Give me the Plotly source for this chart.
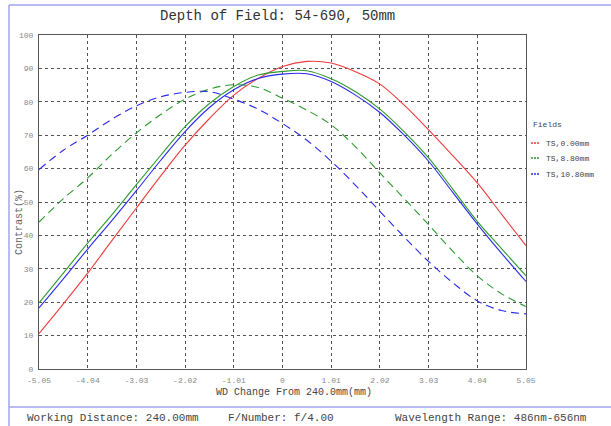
import plotly.graph_objects as go

# ---- data ----
x_vals = [-5.05, -4.545, -4.04, -3.535, -3.03, -2.525, -2.02, -1.515, -1.01, -0.505,
          0.0, 0.505, 1.01, 1.515, 2.02, 2.525, 3.03, 3.535, 4.04, 4.545, 5.05]

ts_000 = [10.6, 19.5, 28.7, 38.5, 48.2, 57.8, 67.0, 75.0, 82.0, 87.0,
          90.6, 92.1, 91.6, 89.0, 85.3, 79.0, 71.6, 63.8, 55.7, 46.3, 36.9]
ts_880 = [19.8, 28.7, 37.7, 46.2, 55.2, 64.0, 72.6, 79.5, 84.6, 88.0,
          89.1, 89.3, 86.9, 83.0, 77.8, 71.0, 63.2, 53.8, 44.2, 36.0, 27.9]
ts_1080 = [18.3, 27.0, 35.9, 44.5, 53.4, 62.5, 71.1, 78.3, 83.6, 87.0,
           88.3, 88.4, 86.1, 82.0, 76.8, 70.0, 62.2, 52.8, 43.4, 34.6, 26.2]
ts_880_dashed = [44.0, 51.0, 57.2, 64.3, 70.7, 76.2, 80.8, 83.8, 85.1, 84.3,
                 81.1, 77.5, 73.1, 66.5, 58.7, 51.0, 43.2, 35.2, 27.9, 22.5, 18.7]
ts_1080_dashed = [59.7, 65.5, 70.0, 74.8, 78.8, 81.5, 82.8, 83.0, 80.8, 77.8,
                  73.5, 68.5, 62.2, 55.0, 47.2, 39.5, 32.2, 25.8, 20.4, 17.5, 16.5]

x_ticks = [-5.05, -4.04, -3.03, -2.02, -1.01, 0, 1.01, 2.02, 3.03, 4.04, 5.05]
x_tick_labels = ["-5.05", "-4.04", "-3.03", "-2.02", "-1.01", "0", "1.01", "2.02", "3.03", "4.04", "5.05"]
y_ticks = [0, 10, 20, 30, 40, 50, 60, 70, 80, 90, 100]

legend_names = ["TS,0.00mm", "TS,8.80mm", "TS,10.80mm"]
colors = ["#ee3b3b", "#2e9a2e", "#2a2aee"]

title_text = "Depth of Field: 54-690, 50mm"
x_title = "WD Change From 240.0mm(mm)"
y_title = "Contrast(%)"
footer = ["Working Distance: 240.00mm", "F/Number: f/4.00", "Wavelength Range: 486nm-656nm"]

FONT = "Liberation Mono, Courier New, monospace"

fig = go.Figure()
series = [
    (ts_000, colors[0], "solid", legend_names[0]),
    (ts_880, colors[1], "solid", legend_names[1]),
    (ts_1080, colors[2], "solid", legend_names[2]),
    (ts_880_dashed, colors[1], "8px,5px", legend_names[1] + " (dashed)"),
    (ts_1080_dashed, colors[2], "8px,5px", legend_names[2] + " (dashed)"),
]
for ys, c, d, n in series:
    fig.add_trace(go.Scatter(x=x_vals, y=ys, mode="lines", name=n,
                             line=dict(color=c, width=1.1, dash=d, shape="spline"),
                             showlegend=False))

W, H = 611, 426
L, R, T, B = 39, 85, 35, 57
pw, ph = W - L - R, H - T - B


def px(xp):
    return (xp - L) / pw


def py(yp):
    return (H - B - yp) / ph


border = "#a3a3ee"
shapes = [
    dict(type="line", xref="paper", yref="paper", x0=px(9), x1=px(611), y0=py(5), y1=py(5),
         line=dict(color=border, width=1.5)),
    dict(type="line", xref="paper", yref="paper", x0=px(9), x1=px(9), y0=py(5), y1=py(426),
         line=dict(color=border, width=1.5)),
    dict(type="line", xref="paper", yref="paper", x0=px(9), x1=px(611), y0=py(407), y1=py(407),
         line=dict(color=border, width=1.5)),
]

annotations = [
    dict(text=title_text, x=px(277), y=py(16), xref="paper", yref="paper", showarrow=False,
         xanchor="center", yanchor="middle", font=dict(family=FONT, size=14, color="#333333")),
    dict(text=x_title, x=px(294), y=py(392), xref="paper", yref="paper", showarrow=False,
         xanchor="center", yanchor="middle", font=dict(family=FONT, size=10, color="#444444")),
    dict(text=y_title, x=px(19), y=py(222), xref="paper", yref="paper", showarrow=False,
         textangle=-90, xanchor="center", yanchor="middle",
         font=dict(family=FONT, size=10, color="#666666")),
    dict(text="Fields", x=px(531), y=py(124), xref="paper", yref="paper", showarrow=False,
         xanchor="left", yanchor="middle", font=dict(family=FONT, size=8, color="#444444")),
]
for txt, xl in zip(footer, [24.5, 226, 393]):
    annotations.append(dict(text=txt, x=px(xl), y=py(418), xref="paper", yref="paper",
                            showarrow=False, xanchor="left", yanchor="middle",
                            font=dict(family=FONT, size=11, color="#444444")))
for name, c, yy in zip(legend_names, colors, [143, 158, 174]):
    shapes.append(dict(type="line", xref="paper", yref="paper", x0=px(531), x1=px(540),
                       y0=py(yy), y1=py(yy), line=dict(color=c, width=1.5, dash="2px,1px")))
    annotations.append(dict(text=name, x=px(544), y=py(yy), xref="paper", yref="paper",
                            showarrow=False, xanchor="left", yanchor="middle",
                            font=dict(family=FONT, size=8, color="#444444")))

fig.update_layout(
    width=W, height=H,
    margin=dict(l=L, r=R, t=T, b=B, pad=0),
    paper_bgcolor="white", plot_bgcolor="white",
    shapes=shapes, annotations=annotations,
    showlegend=False,
)
fig.update_xaxes(range=[-5.05, 5.05], tickvals=x_ticks, ticktext=x_tick_labels,
                 showgrid=True, gridcolor="#555555", griddash="dot", gridwidth=1,
                 showline=True, linecolor="#555555", linewidth=1.2, mirror=True,
                 zeroline=False, ticks="", ticklabelstandoff=3,
                 tickfont=dict(family=FONT, size=8, color="#888888"))
fig.update_yaxes(range=[0, 100], tickvals=y_ticks,
                 showgrid=True, gridcolor="#555555", griddash="dot", gridwidth=1,
                 showline=True, linecolor="#555555", linewidth=1.2, mirror=True,
                 zeroline=False, ticks="", ticklabelstandoff=3,
                 tickfont=dict(family=FONT, size=8, color="#888888"))

fig.write_html("out.html", config={"displayModeBar": False},
               post_script="document.body.style.margin='0';document.body.style.overflow='hidden';")
